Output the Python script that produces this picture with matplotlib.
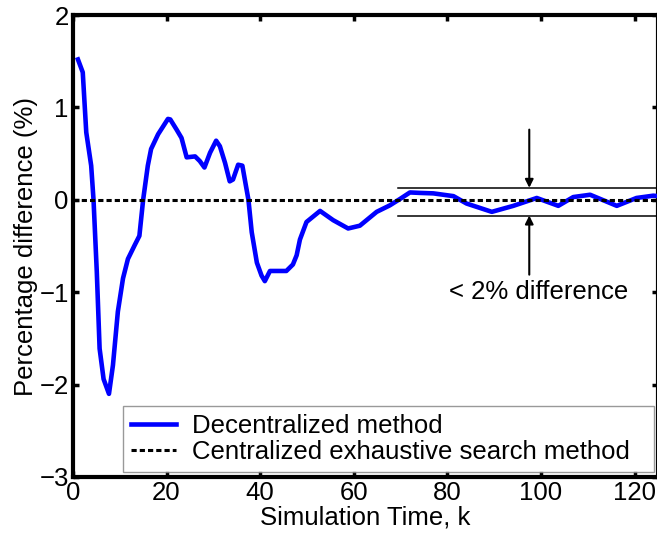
import matplotlib.pyplot as plt

plt.rcParams['font.family'] = ['Liberation Sans', 'DejaVu Sans']

# decentralized method, % difference vs simulation time k
k = [1.07, 2.1, 2.85, 3.9, 4.4, 5.1, 5.7, 6.55, 7.7, 8.55, 9.6, 10.7, 11.75,
     13.2, 14.2, 15.0, 16.0, 16.7, 18.2, 20.3, 20.8, 22.15, 23.2, 24.3, 26.1,
     27.1, 28.1, 29.3, 30.6, 31.4, 32.5, 33.5, 34.2, 35.3, 36.2, 36.97, 37.5,
     38.2, 39.3, 40.3, 41.0, 42.1, 43.5, 45.6, 47.0, 47.8, 48.5, 49.9, 52.8,
     55.6, 58.8, 61.3, 64.9, 67.7, 69.9, 72.0, 74.1, 77, 81.3, 84.1, 89.5,
     94.1, 99.1, 103.7, 106.9, 110.5, 116.2, 120.4, 124, 125]
diff = [1.52, 1.38, 0.73, 0.37, 0.0, -0.78, -1.61, -1.94, -2.10, -1.79, -1.21,
        -0.85, -0.64, -0.49, -0.39, 0.0, 0.37, 0.55, 0.71, 0.876, 0.87, 0.76,
        0.67, 0.46, 0.47, 0.42, 0.35, 0.51, 0.64, 0.58, 0.40, 0.20, 0.22, 0.38,
        0.37, 0.15, 0.0, -0.35, -0.68, -0.82, -0.88, -0.77, -0.77, -0.77,
        -0.70, -0.60, -0.43, -0.24, -0.12, -0.22, -0.31, -0.28, -0.13, -0.06,
        0.01, 0.08, 0.075, 0.07, 0.04, -0.04, -0.13, -0.065, 0.02, -0.065,
        0.03, 0.055, -0.065, 0.02, 0.045, 0.04]

# centralized reference and the tolerance band
ref_k = [0, 125]
ref_val = [0, 0]
band_k = [69.5, 125]
band_top = 0.13
band_bot = -0.17
arrow_k = 97.5

xticks = [0, 20, 40, 60, 80, 100, 120]
yticks = [-3, -2, -1, 0, 1, 2]

fs = 18.5

fig = plt.figure(figsize=(6.57, 5.38), dpi=100)
ax = fig.add_axes([0.111, 0.1134, 0.8905, 0.8586])

ax.plot(k, diff, color='#0000ff', lw=3.3, label='Decentralized method', zorder=3)
ax.plot(ref_k, ref_val, color='black', lw=2.2, linestyle=(0, (1.7, 1.0)),
        label='Centralized exhaustive search method', zorder=4)

# band lines
ax.plot(band_k, [band_top, band_top], color='black', lw=1.1)
ax.plot(band_k, [band_bot, band_bot], color='black', lw=1.1)

ax.annotate('', xy=(arrow_k, band_top), xytext=(arrow_k, 0.76),
            arrowprops=dict(arrowstyle='-|>', color='black', lw=1.5,
                            mutation_scale=12, shrinkA=0, shrinkB=0))
ax.annotate('', xy=(arrow_k, band_bot), xytext=(arrow_k, -0.81),
            arrowprops=dict(arrowstyle='-|>', color='black', lw=1.5,
                            mutation_scale=12, shrinkA=0, shrinkB=0))
ax.text(99.4, -1.0, '< 2% difference', fontsize=fs, ha='center', va='center')

ax.set_xlim(0, 125)
ax.set_ylim(-3, 2)
ax.set_xticks(xticks)
ax.set_yticks(yticks)
ax.tick_params(direction='in', length=4.5, width=2.5, labelsize=fs,
               top=True, right=True, pad=3)
for s in ax.spines.values():
    s.set_linewidth(3)

ax.set_xlabel('Simulation Time, k', fontsize=fs, labelpad=0)
ax.set_ylabel('Percentage difference (%)', fontsize=fs, labelpad=1)

leg = ax.legend(loc='lower left', bbox_to_anchor=(0.0855, 0.011, 0.908, 0.14),
                mode='expand', fontsize=fs, frameon=True, fancybox=False,
                borderpad=0.3, handlelength=1.75, handletextpad=0.62,
                labelspacing=0.1, borderaxespad=0)
leg.get_frame().set_edgecolor('#808080')
leg.get_frame().set_linewidth(1.0)

fig.savefig('out.png', dpi=100)
